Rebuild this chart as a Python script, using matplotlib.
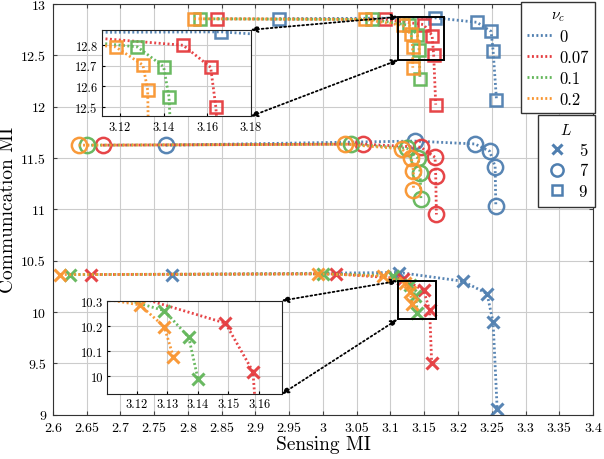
import matplotlib
matplotlib.use('Agg')
import matplotlib.pyplot as plt
from matplotlib.lines import Line2D
from matplotlib.patches import Rectangle, ConnectionPatch
from matplotlib.ticker import FuncFormatter, MultipleLocator

plt.rcParams['font.family'] = 'cmr10'
plt.rcParams['mathtext.fontset'] = 'cm'
plt.rcParams['axes.unicode_minus'] = False
plt.rcParams['axes.formatter.use_mathtext'] = True

nu_labels = ['0', '0.07', '0.1', '0.2']
colors = ['#4f7fb0', '#e53b3e', '#62b659', '#f9952f']
L_labels = ['5', '7', '9']
L_markers = ['x', 'o', 's']

# L = 5, one list per nu_c
sens_L5 = [[2.776, 3.113, 3.207, 3.243, 3.252, 3.258],
           [2.656, 3.019, 3.118, 3.149, 3.158, 3.161],
           [2.625, 3.000, 3.103, 3.129, 3.137, 3.140],
           [2.611, 2.993, 3.089, 3.121, 3.129, 3.132]]
comm_L5 = [[10.365, 10.385, 10.300, 10.180, 9.900, 9.060],
           [10.365, 10.372, 10.325, 10.212, 10.018, 9.504],
           [10.365, 10.372, 10.355, 10.262, 10.156, 9.989],
           [10.365, 10.372, 10.350, 10.285, 10.198, 10.076]]

# L = 7
sens_L7 = [[2.767, 3.136, 3.225, 3.247, 3.255, 3.256],
           [2.674, 3.060, 3.145, 3.166, 3.167, 3.168],
           [2.650, 3.041, 3.124, 3.141, 3.144, 3.145],
           [2.638, 3.033, 3.117, 3.131, 3.134, 3.134]]
comm_L7 = [[11.625, 11.665, 11.637, 11.566, 11.416, 11.036],
           [11.625, 11.635, 11.605, 11.507, 11.328, 10.950],
           [11.625, 11.635, 11.595, 11.497, 11.354, 11.100],
           [11.625, 11.635, 11.588, 11.497, 11.371, 11.189]]

# L = 9
sens_L9 = [[2.935, 3.1665, 3.228, 3.249, 3.252, 3.257],
           [2.843, 3.092, 3.149, 3.1616, 3.164, 3.167],
           [2.818, 3.073, 3.128, 3.140, 3.1425, 3.1437],
           [2.809, 3.062, 3.118, 3.1305, 3.1327, 3.133]]
comm_L9 = [[12.856, 12.865, 12.822, 12.734, 12.545, 12.068],
           [12.856, 12.850, 12.800, 12.693, 12.499, 12.020],
           [12.856, 12.850, 12.792, 12.696, 12.548, 12.270],
           [12.856, 12.850, 12.792, 12.704, 12.583, 12.380]]

groups = [(sens_L5, comm_L5, 'x'), (sens_L7, comm_L7, 'o'), (sens_L9, comm_L9, 's')]
msizes = {'x': 9, 'o': 11, 's': 8.5}
dots = (0, (0.7, 0.9))

fmt = FuncFormatter(lambda v, p: '%g' % round(v, 3))


def draw(ax, which=None):
    for k, (sx, cy, mk) in enumerate(groups):
        if which is not None and k != which:
            continue
        for i in range(4):
            ax.plot(sx[i], cy[i], linestyle=dots, lw=2, color=colors[i],
                    marker=mk, ms=msizes[mk], mew=2.2 if mk == 'x' else 1.8,
                    mfc='none', mec=colors[i], alpha=0.95)


fig = plt.figure(figsize=(6.04, 4.60), dpi=100)
ax = fig.add_axes([0.0877, 0.0963, 0.8941, 0.8928])
draw(ax)
ax.set_xlim(2.6, 3.4)
ax.set_ylim(9, 13)
ax.xaxis.set_major_locator(MultipleLocator(0.05))
ax.yaxis.set_major_locator(MultipleLocator(0.5))
ax.xaxis.set_major_formatter(fmt)
ax.yaxis.set_major_formatter(fmt)
ax.grid(True, color='#cccccc', lw=0.8)
ax.set_axisbelow(True)
ax.tick_params(direction='in', length=3, labelsize=10, top=True, right=True, color='#444444')
ax.tick_params(axis='x', pad=5)
ax.tick_params(axis='y', pad=5)
for s in ax.spines.values():
    s.set_color('#333333')
ax.set_xlabel('Sensing MI', fontsize=14, labelpad=1)
ax.set_ylabel('Communication MI', fontsize=14, labelpad=3)

# zoom insets
insets = [([0.1684, 0.745, 0.2467, 0.188], 2, (3.1116, 3.18), (12.455, 12.875), 0.02, 0.1),
          ([0.1777, 0.1413, 0.2887, 0.2029], 0, (3.1104, 3.1674), (9.928, 10.302), 0.01, 0.1)]
for pos, which, xl, yl, xs, ys in insets:
    axi = fig.add_axes(pos)
    draw(axi, which)
    axi.set_xlim(*xl)
    axi.set_ylim(*yl)
    axi.xaxis.set_major_locator(MultipleLocator(xs))
    axi.yaxis.set_major_locator(MultipleLocator(ys))
    axi.xaxis.set_major_formatter(fmt)
    axi.yaxis.set_major_formatter(fmt)
    axi.grid(True, color='#cccccc', lw=0.8)
    axi.set_axisbelow(True)
    axi.tick_params(direction='in', length=2, labelsize=9, pad=3)
    for s in axi.spines.values():
        s.set_color('#222222')
    ax.add_patch(Rectangle((xl[0], yl[0]), xl[1] - xl[0], yl[1] - yl[0],
                           fill=False, ec='k', lw=1.4, zorder=5))
    for ia, ib in [((1, 1), (xl[0], yl[1])), ((1, 0), (xl[0], yl[0]))]:
        con = ConnectionPatch(xyA=ia, coordsA=axi.transAxes, xyB=ib, coordsB=ax.transData,
                              arrowstyle='<|-|>', linestyle=(0, (1, 1.5)), lw=1.3,
                              color='k', mutation_scale=10, zorder=6)
        fig.add_artist(con)

# legends
h1 = [Line2D([], [], linestyle=dots, lw=2, color=c) for c in colors]
leg1 = ax.legend(h1, nu_labels, title=r'$\nu_c$', loc='upper right',
                 bbox_to_anchor=(1.003, 1.005), borderaxespad=0, fontsize=12,
                 title_fontsize=11, handlelength=1.6, handletextpad=0.35,
                 labelspacing=0.34, borderpad=0.35, fancybox=False,
                 edgecolor='#333333', framealpha=1)
ax.add_artist(leg1)
h2 = [Line2D([], [], linestyle='none', marker=m, color=colors[0], ms=msizes[m] * 0.8,
             mew=2.2 if m == 'x' else 1.8, mfc='none') for m in L_markers]
ax.legend(h2, L_labels, title='$L$', loc='upper right', bbox_to_anchor=(1.003, 0.7305),
          borderaxespad=0, fontsize=12, title_fontsize=11, handlelength=1.4,
          handletextpad=0.6, labelspacing=0.32, borderpad=0.45, fancybox=False,
          edgecolor='#333333', framealpha=1)

fig.savefig('out.png', dpi=100)
